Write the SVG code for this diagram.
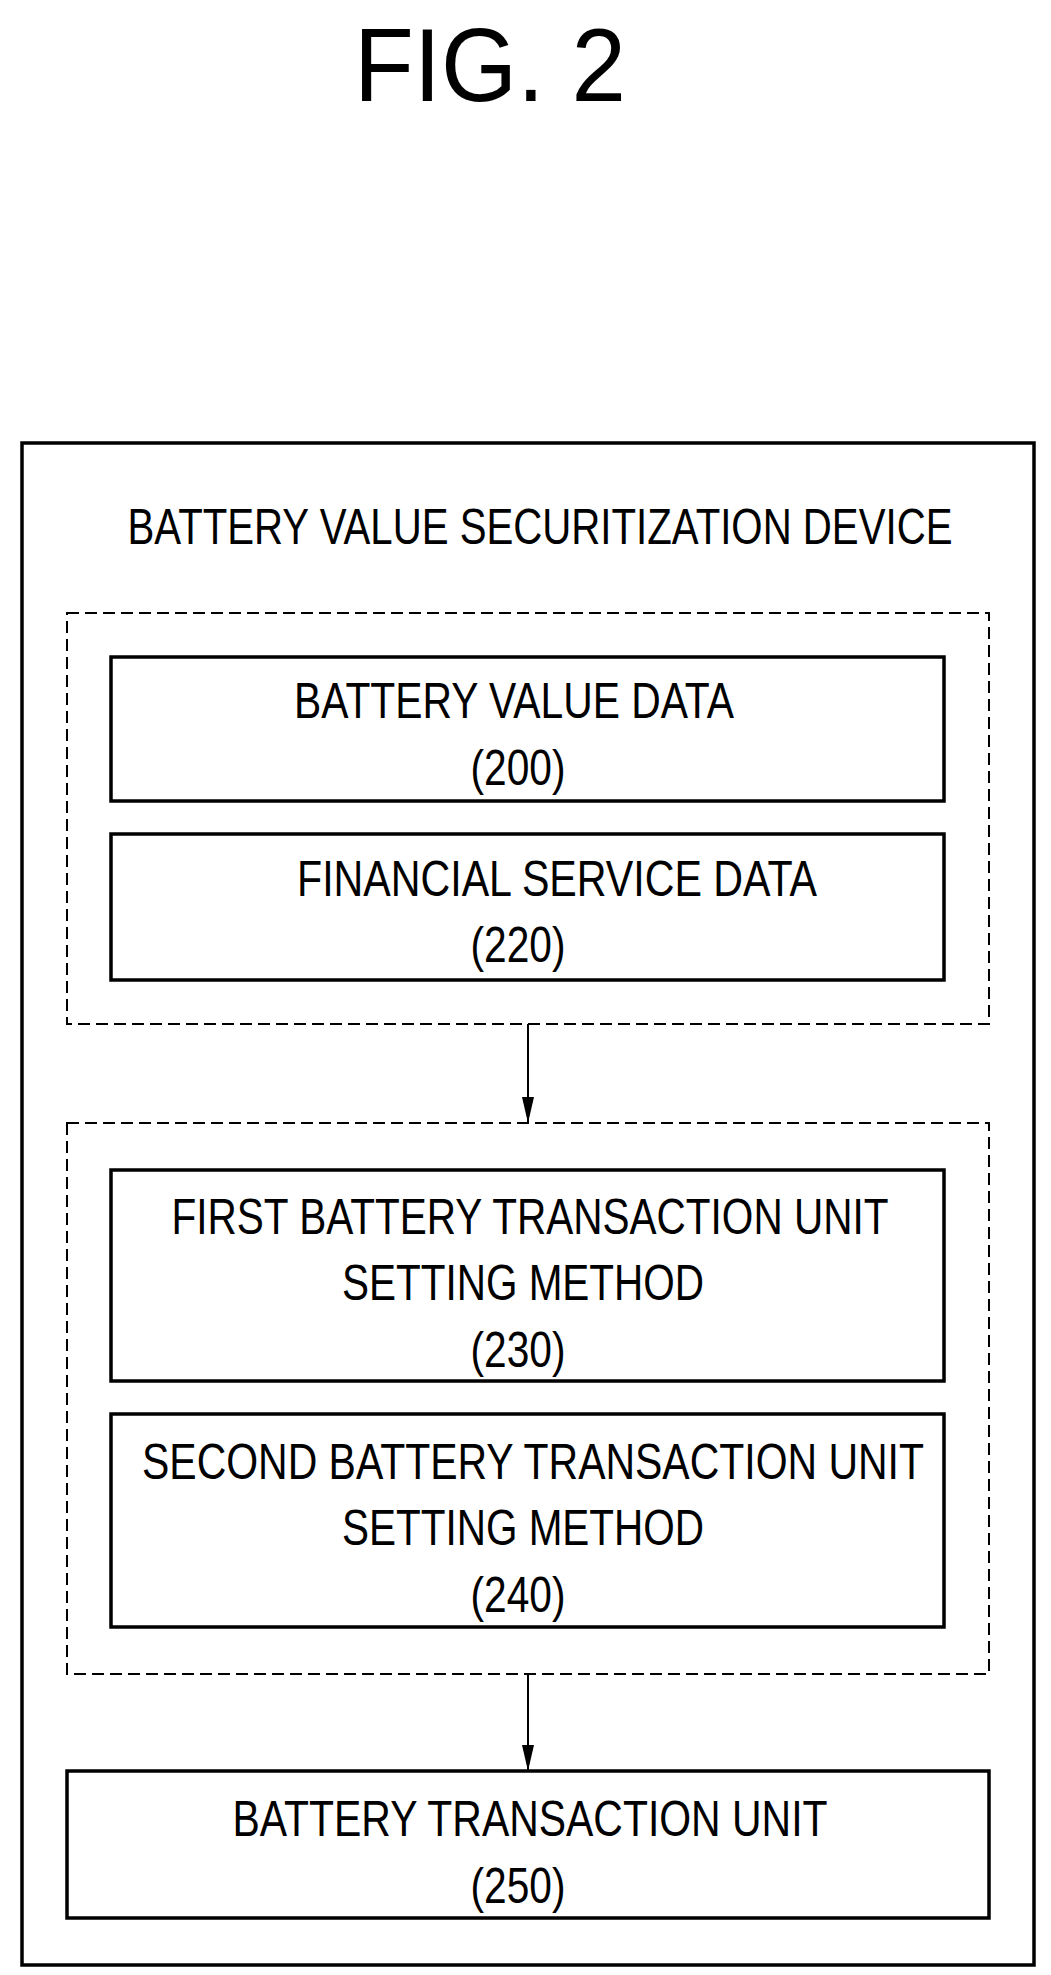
<svg xmlns="http://www.w3.org/2000/svg" width="1051" height="1975" viewBox="0 0 1051 1975">
<style>
text{font-family:"Liberation Sans",Arial,sans-serif;font-size:50px;fill:#000;text-anchor:middle}
.box{fill:none;stroke:#000;stroke-width:3.5}
.dash{fill:none;stroke:#000;stroke-width:2;stroke-dasharray:12 6}
.ln{stroke:#000;stroke-width:2;fill:none}
</style>
<defs><marker id="ah" markerWidth="26" markerHeight="12" refX="26" refY="6" orient="auto" markerUnits="userSpaceOnUse" viewBox="0 0 26 12"><path d="M0,0 L26,6 L0,12 Z" fill="#000"/></marker></defs>
<rect width="1051" height="1975" fill="#fff"/>
<text x="490" y="101" style="font-size:104px" textLength="272" lengthAdjust="spacingAndGlyphs">FIG. 2</text>
<g id="device"><rect class="box" x="22" y="443" width="1012" height="1522"/>
<text x="540" y="544" textLength="825" lengthAdjust="spacingAndGlyphs">BATTERY VALUE SECURITIZATION DEVICE</text></g>
<g id="group1"><rect class="dash" x="67" y="613" width="922" height="411"/></g>
<g id="n200"><rect class="box" x="111" y="657" width="833" height="144"/>
<text x="514" y="718" textLength="440" lengthAdjust="spacingAndGlyphs">BATTERY VALUE DATA</text>
<text x="518" y="785" textLength="95" lengthAdjust="spacingAndGlyphs">(200)</text></g>
<g id="n220"><rect class="box" x="111" y="834" width="833" height="146"/>
<text x="557" y="896" textLength="520" lengthAdjust="spacingAndGlyphs">FINANCIAL SERVICE DATA</text>
<text x="518" y="962" textLength="95" lengthAdjust="spacingAndGlyphs">(220)</text></g>
<g id="group2"><rect class="dash" x="67" y="1123" width="922" height="551"/></g>
<g id="n230"><rect class="box" x="111" y="1170" width="833" height="211"/>
<text x="530" y="1234" textLength="717" lengthAdjust="spacingAndGlyphs">FIRST BATTERY TRANSACTION UNIT</text>
<text x="523" y="1300" textLength="362" lengthAdjust="spacingAndGlyphs">SETTING METHOD</text>
<text x="518" y="1367" textLength="95" lengthAdjust="spacingAndGlyphs">(230)</text></g>
<g id="n240"><rect class="box" x="111" y="1414" width="833" height="213"/>
<text x="533" y="1479" textLength="782" lengthAdjust="spacingAndGlyphs">SECOND BATTERY TRANSACTION UNIT</text>
<text x="523" y="1545" textLength="362" lengthAdjust="spacingAndGlyphs">SETTING METHOD</text>
<text x="518" y="1612" textLength="95" lengthAdjust="spacingAndGlyphs">(240)</text></g>
<g id="n250"><rect class="box" x="67" y="1771" width="922" height="147"/>
<text x="530" y="1836" textLength="595" lengthAdjust="spacingAndGlyphs">BATTERY TRANSACTION UNIT</text>
<text x="518" y="1903" textLength="95" lengthAdjust="spacingAndGlyphs">(250)</text></g>
<g id="connectors">
<line class="ln" x1="528" y1="1024" x2="528" y2="1123" marker-end="url(#ah)"/>
<line class="ln" x1="528" y1="1674" x2="528" y2="1771" marker-end="url(#ah)"/>
</g>
</svg>
